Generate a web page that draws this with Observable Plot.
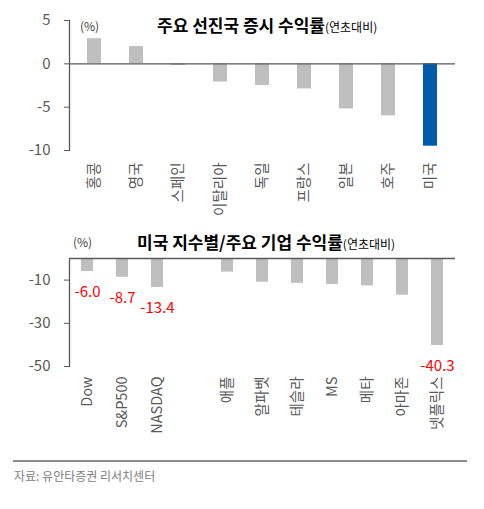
<!DOCTYPE html>
<html><head><meta charset="utf-8">
<script src="https://cdn.jsdelivr.net/npm/d3@7"></script>
<script src="https://cdn.jsdelivr.net/npm/@observablehq/plot@0.6"></script>
<style>
body{margin:0;background:#fff;font-family:"Noto Sans CJK KR","Noto Sans",sans-serif;}
#wrap{position:relative;width:484px;height:509px;overflow:hidden;}
.abs{position:absolute;white-space:nowrap;line-height:1;}
.title{font-weight:bold;font-size:17px;color:#000;}
.title span{font-weight:normal;font-size:12px;}
.unit{font-size:12px;color:#404040;}
.src{font-size:12px;color:#808080;}
.hr{height:1.5px;background:#8a8a8a;}
</style></head>
<body><div id="wrap">
<div id="c1" class="abs" style="left:0;top:0"></div>
<div id="c2" class="abs" style="left:0;top:230px"></div>
<div class="abs unit" style="left:80px;top:20px">(%)</div>
<div class="abs title" style="left:157px;top:16px">주요 선진국 증시 수익률<span>(연초대비)</span></div>
<div class="abs unit" style="left:73px;top:236px">(%)</div>
<div class="abs title" style="left:137px;top:233px">미국 지수별/주요 기업 수익률<span>(연초대비)</span></div>
<div class="abs hr" style="left:13px;top:460px;width:454px"></div>
<div class="abs src" style="left:14px;top:470px">자료: 유안타증권 리서치센터</div>
</div>
<script>
// Chart 1 data
const countries = ["홍콩","영국","스페인","이탈리아","독일","프랑스","일본","호주","미국"];
const countryReturns = [2.9, 2.0, -0.2, -2.1, -2.5, -2.9, -5.2, -6.0, -9.5];
const highlightCountry = "미국";
const y1Ticks = [5, 0, -5, -10];

// Chart 2 data (" " is the empty gap slot)
const usNames = ["Dow","S&P500","NASDAQ"," ","애플","알파벳","테슬라","MS","메타","아마존","넷플릭스"];
const usReturns = [-6.0, -8.7, -13.4, null, -6.3, -11.0, -11.5, -12.0, -12.7, -17.0, -40.3];
const usLabeled = ["Dow","S&P500","NASDAQ","넷플릭스"];
const y2Ticks = [-10, -30, -50];

const grey = "#bfbfbf", blue = "#005bac", axisCol = "#595959";
const style = {fontFamily:'"Noto Sans CJK KR","Noto Sans",sans-serif', background:"transparent", overflow:"visible", color: axisCol};

const d1 = countries.map((c,i)=>({name:c, value:countryReturns[i]}));
const p1 = Plot.plot({
  width: 484, height: 230,
  marginLeft: 69, marginRight: 29, marginTop: 20, marginBottom: 80,
  style,
  x: {domain: countries, paddingInner: 0.66, paddingOuter: 0.33, axis: null},
  y: {domain: [-10, 5], axis: null},
  marks: [
    Plot.barY(d1, {x:"name", y:"value", fill: d => d.name === highlightCountry ? blue : grey}),
    Plot.ruleY([0], {stroke: axisCol, strokeWidth: 1.3}),
    Plot.frame({anchor:"left", stroke: axisCol, strokeWidth: 1.3}),
    Plot.axisY({ticks: y1Ticks, tickSize: 5, tickPadding: 14, label: null, fontSize: 15, stroke: axisCol, fill: axisCol, tickFormat: d => d}),
    Plot.axisX({tickSize: 0, tickRotate: -90, tickPadding: 12, label: null, fontSize: 14.5, fill: axisCol})
  ]
});
document.getElementById("c1").append(p1);

const d2 = usNames.map((c,i)=>({name:c, value:usReturns[i]}));
const p2 = Plot.plot({
  width: 484, height: 225,
  marginLeft: 69, marginRight: 29, marginTop: 28, marginBottom: 89,
  style,
  x: {domain: usNames, paddingInner: 0.66, paddingOuter: 0.33, axis: null},
  y: {domain: [-50, 0], axis: null},
  marks: [
    Plot.barY(d2.filter(d => d.value != null), {x:"name", y:"value", fill: grey}),
    Plot.ruleY([0], {stroke: axisCol, strokeWidth: 1.3}),
    Plot.frame({anchor:"left", stroke: axisCol, strokeWidth: 1.3}),
    Plot.text(d2.filter(d => usLabeled.includes(d.name)), {x:"name", y:"value", text: d => d.value.toFixed(1), dy: 21, fill: "#ff0000", fontSize: 15}),
    Plot.axisY({ticks: y2Ticks, tickSize: 5, tickPadding: 14, label: null, fontSize: 15, stroke: axisCol, fill: axisCol, tickFormat: d => d}),
    Plot.axisX({tickSize: 0, tickRotate: -90, tickPadding: 10, label: null, fontSize: 14.5, fill: axisCol})
  ]
});
document.getElementById("c2").append(p2);
</script>
</body></html>
